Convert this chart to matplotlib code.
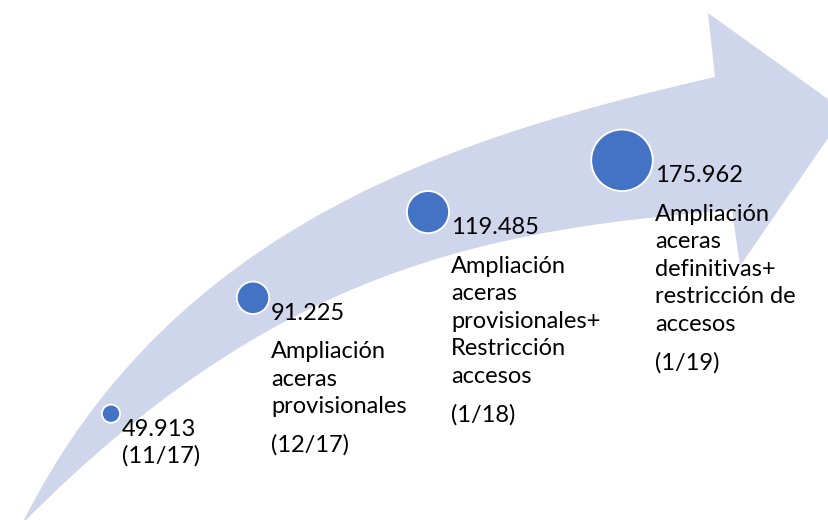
import numpy as np
import matplotlib.pyplot as plt
from matplotlib.path import Path
from matplotlib.patches import PathPatch, Circle

# data
values = [49913, 91225, 119485, 175962]
dates = ["(11/17)", "(12/17)", "(1/18)", "(1/19)"]
descriptions = [
    [],
    ["Ampliación", "aceras", "provisionales"],
    ["Ampliación", "aceras", "provisionales+", "Restricción", "accesos"],
    ["Ampliación", "aceras", "definitivas+", "restricción de", "accesos"],
]

# layout (pixels, origin top left)
W, H = 829, 520
stop_x = [111, 253, 428, 622]
arrow_fill = "#CFD5EA"
dot_color = "#4472C4"
line_h = 27.5
para_gap = 38.5
fs = 17

plt.rcParams['font.family'] = ['Lato', 'DejaVu Sans']

fig = plt.figure(figsize=(W / 100, H / 100), dpi=100)
ax = fig.add_axes([0, 0, 1, 1])
ax.set_xlim(0, W)
ax.set_ylim(H, 0)
ax.axis('off')

# curved arrow
tail = (22, 524)
upper = [tail, (173, 220), (465, 134.5), (715, 77)]
lower = [(732, 210), (482, 230), (273, 270), tail]
verts = upper + [(708, 13), (846, 112), (740, 266)] + lower
codes = ([Path.MOVETO] + [Path.CURVE4] * 3 + [Path.LINETO] * 4
         + [Path.CURVE4] * 3)
ax.add_patch(PathPatch(Path(verts, codes), facecolor=arrow_fill,
                       edgecolor='none', zorder=1))


def bezier(p, t):
    p = np.array(p, dtype=float)
    t = t[:, None]
    return ((1 - t) ** 3 * p[0] + 3 * (1 - t) ** 2 * t * p[1]
            + 3 * (1 - t) * t ** 2 * p[2] + t ** 3 * p[3])


t = np.linspace(0, 1, 400)
up = bezier(upper, t)
lo = bezier(lower[::-1], t)

for i, v in enumerate(values):
    cx = stop_x[i]
    cy = (np.interp(cx, up[:, 0], up[:, 1]) + np.interp(cx, lo[:, 0], lo[:, 1])) / 2
    r = v * 0.000172 + 0.5
    ax.add_patch(Circle((cx, cy), r, facecolor=dot_color, edgecolor='white',
                        linewidth=1.3, zorder=3))

    x = cx + r + 2
    y = cy + 22
    label = f"{v:,}".replace(",", ".")
    ax.text(x, y, label, fontsize=fs, va='baseline', ha='left', color='black')
    if descriptions[i]:
        y += para_gap
        for j, line in enumerate(descriptions[i]):
            if j:
                y += line_h
            ax.text(x, y, line, fontsize=fs, va='baseline', ha='left', color='black')
        y += para_gap
    else:
        y += line_h - 1
    ax.text(x, y, dates[i], fontsize=fs, va='baseline', ha='left', color='black')

fig.savefig("out.png", dpi=100)
